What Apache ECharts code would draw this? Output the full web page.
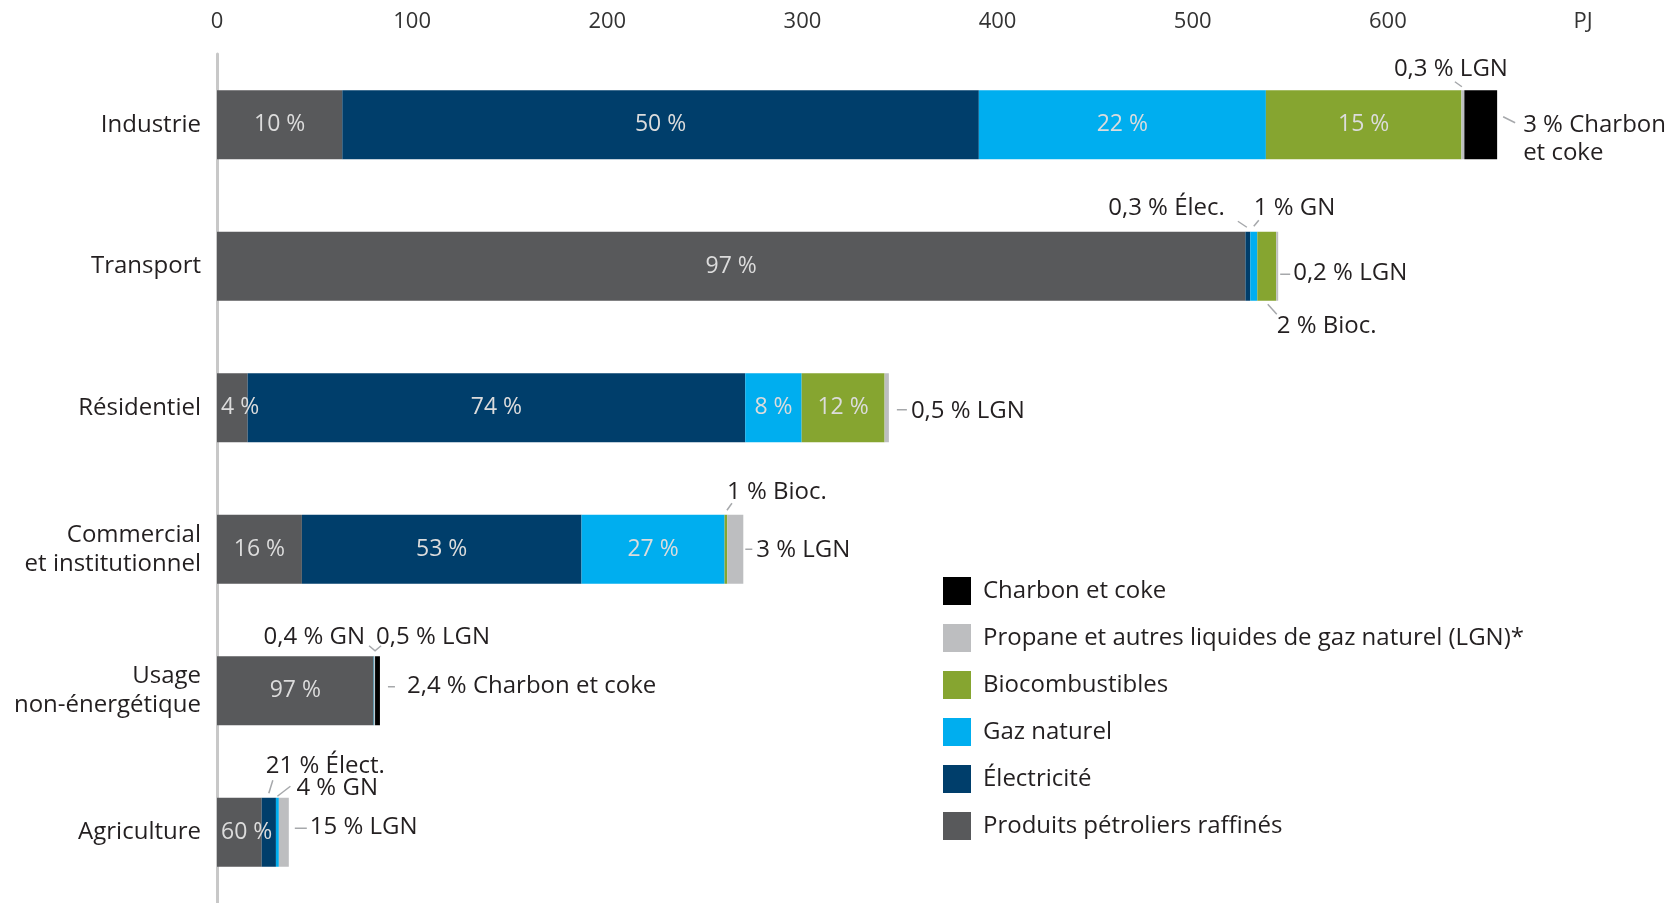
<!DOCTYPE html>
<html>
<head>
<meta charset="utf-8">
<script src="https://cdn.jsdelivr.net/npm/echarts/dist/echarts.min.js"></script>
<style>
  html, body { margin: 0; padding: 0; background: #fff; }
  #chart { width: 1667px; height: 903px; }
</style>
</head>
<body>
<div id="chart"></div>
<script>
// secteurs (haut -> bas)
const categories = ['Industrie', 'Transport', 'Résidentiel', 'Commercial\net institutionnel', 'Usage\nnon-énergétique', 'Agriculture'];

// PJ par source, même ordre que categories
const petrole = [64.2, 527, 15.7, 43.5, 80.3, 22.9];
const electricite = [326.2, 2.5, 255, 143.3, 0, 7.3];
const gazNaturel = [147.1, 3.6, 28.9, 73.3, 0.3, 1.5];
const biocomb = [100.2, 9.7, 42.5, 1.4, 0, 0];
const lgn = [1.5, 1, 2.2, 8.2, 0.4, 5.1];
const charbon = [16.8, 0, 0, 0, 2.5, 0];

// étiquettes dans les barres
const pctPetrole = ['10 %', '97 %', '4 %', '16 %', '97 %', '60 %'];
const pctElec = ['50 %', '', '74 %', '53 %', '', ''];
const pctGN = ['22 %', '', '8 %', '27 %', '', ''];
const pctBio = ['15 %', '', '12 %', '', '', ''];

const xTicks = [0, 100, 200, 300, 400, 500, 600, 'PJ'];

const names = ['Produits pétroliers raffinés', 'Électricité', 'Gaz naturel', 'Biocombustibles',
  'Propane et autres liquides de gaz naturel (LGN)*', 'Charbon et coke'];
const colors = ['#58595b', '#003e6b', '#00aeef', '#86a530', '#bdbec0', '#000000'];
const values = [petrole, electricite, gazNaturel, biocomb, lgn, charbon];
const inside = [pctPetrole, pctElec, pctGN, pctBio, null, null];

const FONT = 'Open Sans';
const chart = echarts.init(document.getElementById('chart'));

const series = values.map((vals, s) => ({
  name: names[s],
  type: 'bar',
  stack: 'total',
  barWidth: 69,
  itemStyle: { color: colors[s] },
  emphasis: { disabled: true },
  data: vals.map((v, i) => {
    const txt = inside[s] ? inside[s][i] : '';
    const item = { value: v };
    if (txt) {
      item.label = {
        show: true,
        formatter: txt,
        position: v < 25 ? 'insideLeft' : 'inside',
        distance: 4,
        color: '#dcdcdc',
        fontSize: 23,
        fontFamily: FONT,
      };
    } else {
      item.label = { show: false };
    }
    return item;
  }),
}));

chart.setOption({
  animation: false,
  textStyle: { fontFamily: FONT },
  grid: { left: 217, width: 1366, top: 54, height: 851 },
  legend: {
    orient: 'vertical',
    left: 943,
    top: 577,
    padding: 0,
    icon: 'rect',
    itemWidth: 28,
    itemHeight: 28,
    itemGap: 19,
    selectedMode: false,
    data: names.slice().reverse(),
    textStyle: { fontSize: 24, color: '#231f20', fontFamily: FONT, padding: [0, 0, 0, 7] },
  },
  xAxis: {
    type: 'value',
    position: 'top',
    min: 0,
    max: 700,
    interval: 100,
    axisLine: { show: false },
    axisTick: { show: false },
    splitLine: { show: false },
    axisLabel: {
      margin: 21,
      fontSize: 22,
      color: '#333333',
      fontFamily: FONT,
      showMinLabel: true,
      showMaxLabel: true,
      formatter: (v) => xTicks[v / 100],
    },
  },
  yAxis: {
    type: 'category',
    inverse: true,
    data: categories,
    axisLine: { lineStyle: { color: '#c8c8c8', width: 3 } },
    axisTick: { show: false },
    axisLabel: {
      margin: 16,
      fontSize: 24,
      lineHeight: 29,
      padding: [6, 0, 0, 0],
      color: '#231f20',
      fontFamily: FONT,
      align: 'right',
    },
  },
  series,
});

// --- étiquettes extérieures avec traits de rappel ---
function cum(cat, upto) {
  let t = 0;
  for (let s = 0; s < upto; s++) t += values[s][cat];
  return t;
}
// x au centre d'un segment, ou à la fin de la barre
function anchor(cat, ref) {
  const v = ref === 'end' ? cum(cat, values.length) : cum(cat, ref) + values[ref][cat] / 2;
  return chart.convertToPixel({ gridIndex: 0 }, [v, cat]);
}
function anchorAt(cat, v) {
  return chart.convertToPixel({ gridIndex: 0 }, [v, cat]);
}

const callouts = [
  { cat: 0, ref: 4, text: '0,3 % LGN', line: [[-8, -43], [-1, -38]], tx: -12, ty: -56, align: 'center' },
  { cat: 0, ref: 'end', text: '3 % Charbon\net coke', line: [[6, -8], [18, -2]], tx: 26, ty: 14, align: 'left' },
  { cat: 1, ref: 1, text: '0,3 % Élec.', line: [[-10, -45], [-1, -39]], tx: -23, ty: -58, align: 'right' },
  { cat: 1, ref: 2, text: '1 % GN', line: [[0, -40], [5, -46]], tx: 0, ty: -58, align: 'left' },
  { cat: 1, ref: 'end', text: '0,2 % LGN', line: [[2, 8], [12, 8]], tx: 15, ty: 7, align: 'left' },
  { cat: 1, ref: 3, text: '2 % Bioc.', line: [[1, 38], [10, 48]], tx: 10, ty: 60, align: 'left' },
  { cat: 2, ref: 'end', text: '0,5 % LGN', line: [[8, 2], [18, 2]], tx: 22, ty: 3, align: 'left' },
  { cat: 3, ref: 3, text: '1 % Bioc.', line: [[1, -39], [6, -46]], tx: 1, ty: -57, align: 'left' },
  { cat: 3, ref: 'end', text: '3 % LGN', line: [[2, 0], [9, 0]], tx: 13, ty: 1, align: 'left' },
  { cat: 4, ref: 5, text: '0,4 % GN', line: [[-6, -45], [0, -40], [6, -45]], tx: -10, ty: -54, align: 'right', edge: true },
  { cat: 4, ref: 5, text: '0,5 % LGN', line: null, tx: 1, ty: -54, align: 'left', edge: true },
  { cat: 4, ref: 'end', text: '2,4 % Charbon et coke', line: [[8, -4], [15, -4]], tx: 27, ty: -5, align: 'left' },
  { cat: 5, ref: 1, text: '21 % Élect.', line: [[0, -39], [4, -52]], tx: -3, ty: -66, align: 'left' },
  { cat: 5, ref: 2, text: '4 % GN', line: [[0, -36], [13, -46]], tx: 19, ty: -44, align: 'left' },
  { cat: 5, ref: 'end', text: '15 % LGN', line: [[6, -4], [18, -4]], tx: 21, ty: -5, align: 'left' },
];

const graphics = [];
callouts.forEach((c) => {
  // edge: début du segment (fin des précédents)
  const p = c.edge ? anchorAt(c.cat, cum(c.cat, c.ref)) : anchor(c.cat, c.ref);
  if (c.line) {
    graphics.push({
      type: 'polyline',
      silent: true,
      shape: { points: c.line.map((d) => [p[0] + d[0], p[1] + d[1]]) },
      style: { stroke: '#a6a8ab', lineWidth: 1.5, fill: null },
    });
  }
  graphics.push({
    type: 'text',
    silent: true,
    style: {
      text: c.text,
      x: p[0] + c.tx,
      y: p[1] + c.ty,
      fill: '#231f20',
      fontSize: 24,
      fontFamily: FONT,
      lineHeight: 28,
      align: c.align,
      textAlign: c.align,
      verticalAlign: 'middle',
      textVerticalAlign: 'middle',
    },
  });
});

chart.setOption({ graphic: graphics });
</script>
</body>
</html>
